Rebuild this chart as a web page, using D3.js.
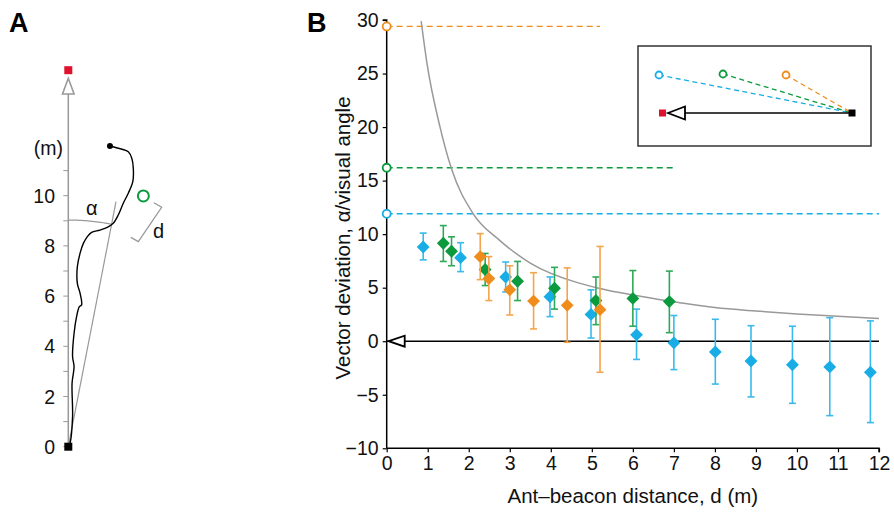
<!DOCTYPE html>
<html>
<head>
<meta charset="utf-8">
<script src="https://cdn.jsdelivr.net/npm/d3@7"></script>
<style>
  body { margin: 0; background: #fff; }
  svg text { font-family: "Liberation Sans", Arial, Helvetica, sans-serif; }
</style>
</head>
<body>
<div id="chart"></div>
<script>
// ---------------------------------------------- DATA ----------------------------------------------

// panel B, mean vector deviation per ant-beacon distance (m), with error bars
var blueD  = [0.89, 1.8, 2.9, 3.98, 4.98, 6.09, 7.0, 8.01, 8.88, 9.89, 10.8, 11.79];
var blueV  = [8.8, 7.8, 6.0, 4.15, 2.5, 0.6, -0.15, -1.0, -1.85, -2.2, -2.4, -2.9];
var blueLo = [7.6, 6.5, 4.6, 2.3, 0.3, -1.7, -2.65, -4.0, -5.2, -5.8, -6.95, -7.6];
var blueHi = [10.1, 9.2, 7.4, 6.0, 4.8, 3.0, 2.4, 2.05, 1.45, 1.4, 2.2, 1.9];

var greenD  = [1.38, 1.58, 2.4, 3.19, 4.09, 5.1, 6.0, 6.89];
var greenV  = [9.15, 8.4, 6.7, 5.6, 4.95, 3.8, 4.0, 3.7];
var greenLo = [7.45, 7.05, 5.2, 3.8, 3.0, 1.55, 1.4, 0.8];
var greenHi = [10.8, 9.75, 8.2, 7.45, 6.9, 6.0, 6.6, 6.55];

var orangeD  = [2.28, 2.49, 3.0, 3.58, 4.4, 5.2];
var orangeV  = [7.9, 5.85, 4.8, 3.75, 3.35, 2.95];
var orangeLo = [5.75, 3.8, 2.45, 1.15, -0.1, -2.9];
var orangeHi = [10.05, 7.9, 7.05, 6.4, 6.85, 8.85];

// beacon release angles (dashed lines) and where each line stops
var beaconNames = ["orange", "green", "blue"];
var beaconV     = [29.4, 16.2, 11.9];
var beaconEnd   = [5.2, 7.0, 12];

// visual angle of the beacon (grey curve)
var curveD = [0.84, 0.98, 1.3, 1.58, 2.11, 2.76, 3.5, 4.71, 5.11, 6.18, 7.15, 8, 9, 10, 11, 12];
var curveV = [29.9, 26.0, 20.0, 16.1, 11.9, 9.4, 7.3, 5.4, 5.0, 4.2, 3.6, 3.15, 2.82, 2.55, 2.33, 2.13];

var xTicksB = [0, 1, 2, 3, 4, 5, 6, 7, 8, 9, 10, 11, 12];
var yTicksB = [-10, -5, 0, 5, 10, 15, 20, 25, 30];

// panel A, example ant path (m)
var pathX = [0, 0.07, 0.17, 0.15, 0.23, 0.17, 0.23, 0.33, 0.44, 0.53, 0.47, 0.36, 0.36, 0.47, 0.6, 0.76,
             0.93, 1.26, 1.59, 1.79, 1.99, 2.19, 2.39, 2.57, 2.59, 2.53, 2.39, 1.99, 1.66];
var pathY = [0, 0.14, 1.2, 2.53, 3.19, 3.59, 4.52, 5.18, 5.58, 5.65, 6.11, 6.51, 7.17, 7.71, 8.1, 8.37,
             8.54, 8.63, 8.76, 8.9, 9.23, 9.7, 10.1, 10.56, 11.09, 11.49, 11.75, 11.89, 11.98];
var yTicksA = [0, 1, 2, 3, 4, 5, 6, 7, 8, 9, 10, 11];
var yLabelsA = [0, 2, 4, 6, 8, 10];
var beaconA = [2.99, 9.99];      // green beacon position
var targetA = 15;                // red square (nest direction)
var vectorEnd = [1.9, 9.76];     // grey straight vector
var arcR = 9.03;

var colors = { blue: "#19ade6", green: "#0b9a3d", orange: "#ef8c1c" };
var barColors = { blue: "#3bb9ea", green: "#2fa957", orange: "#f3a54c" };

// ---------------------------------------------- SVG ----------------------------------------------

var width = 894, height = 514;

var svg = d3.select("#chart").append("svg")
    .attr("width", width)
    .attr("height", height);

// ---------------------------------------------- PANEL B ----------------------------------------------

var x = d3.scaleLinear().domain([0, 12]).range([386.7, 879]);
var y = d3.scaleLinear().domain([-10, 30]).range([448.3, 20]);

var gB = svg.append("g");

// axes
var xAxis = gB.append("g")
    .attr("transform", "translate(0," + y(-10) + ")")
    .call(d3.axisBottom(x).tickValues(xTicksB).tickSize(4).tickPadding(4).tickFormat(d3.format("d")));
var yAxis = gB.append("g")
    .attr("transform", "translate(" + x(0) + ",0)")
    .call(d3.axisLeft(y).tickValues(yTicksB).tickSize(4).tickPadding(4).tickFormat(d3.format("d")));

[xAxis, yAxis].forEach(function(a) {
  a.select(".domain").attr("stroke", "#000").attr("stroke-width", 1.5);
  a.selectAll(".tick line").attr("stroke", "#000").attr("stroke-width", 1.2);
  a.selectAll(".tick text").attr("font-size", 19.5).attr("fill", "#111");
});
xAxis.select(".domain").attr("d", "M" + x(0) + ",0H" + x(12) + "V4");
yAxis.select(".domain").attr("d", "M0," + y(-10) + "V" + y(30) + "H-4");

gB.append("text")
    .attr("x", x(6)).attr("y", 503)
    .attr("text-anchor", "middle")
    .attr("font-size", 20.5)
    .attr("fill", "#111")
    .text("Ant\u2013beacon distance, d (m)");

gB.append("text")
    .attr("transform", "translate(350,238) rotate(-90)")
    .attr("text-anchor", "middle")
    .attr("font-size", 20.5)
    .attr("fill", "#111")
    .text("Vector deviation, \u03b1/visual angle");

// zero line with nest arrow
gB.append("line")
    .attr("x1", x(0)).attr("x2", x(12))
    .attr("y1", y(0)).attr("y2", y(0))
    .attr("stroke", "#000").attr("stroke-width", 1.5);
gB.append("path")
    .attr("d", "M" + (x(0) + 2) + "," + y(0) + "L" + (x(0) + 18) + "," + (y(0) - 5.5) + "L" + (x(0) + 18) + "," + (y(0) + 5.5) + "Z")
    .attr("fill", "#fff").attr("stroke", "#000").attr("stroke-width", 1.8);

// beacon angle lines
beaconNames.forEach(function(n, i) {
  gB.append("line")
      .attr("x1", x(0)).attr("x2", x(beaconEnd[i]))
      .attr("y1", y(beaconV[i])).attr("y2", y(beaconV[i]))
      .attr("stroke", colors[n]).attr("stroke-width", 1.4)
      .attr("stroke-dasharray", "6,4");
  gB.append("circle")
      .attr("cx", x(0)).attr("cy", y(beaconV[i])).attr("r", 4)
      .attr("fill", "#fff").attr("stroke", colors[n]).attr("stroke-width", 1.8);
});

// visual angle curve
var curvePts = curveD.map(function(d, i) { return [d, curveV[i]]; });
gB.append("path")
    .datum(curvePts)
    .attr("d", d3.line().x(function(d) { return x(d[0]); }).y(function(d) { return y(d[1]); }).curve(d3.curveMonotoneX))
    .attr("fill", "none").attr("stroke", "#999").attr("stroke-width", 1.5);

// series
function drawSeries(name, ds, vs, los, his) {
  var pts = ds.map(function(d, i) { return { d: d, v: vs[i], lo: los[i], hi: his[i] }; });
  var g = gB.append("g").attr("class", "series-" + name);
  var bars = g.selectAll(".err").data(pts).enter().append("g").attr("class", "err")
      .attr("stroke", barColors[name]).attr("stroke-width", 1.6);
  bars.append("line")
      .attr("x1", function(p) { return x(p.d); }).attr("x2", function(p) { return x(p.d); })
      .attr("y1", function(p) { return y(p.lo); }).attr("y2", function(p) { return y(p.hi); });
  bars.append("line")
      .attr("x1", function(p) { return x(p.d) - 3.5; }).attr("x2", function(p) { return x(p.d) + 3.5; })
      .attr("y1", function(p) { return y(p.lo); }).attr("y2", function(p) { return y(p.lo); });
  bars.append("line")
      .attr("x1", function(p) { return x(p.d) - 3.5; }).attr("x2", function(p) { return x(p.d) + 3.5; })
      .attr("y1", function(p) { return y(p.hi); }).attr("y2", function(p) { return y(p.hi); });
  g.selectAll(".pt").data(pts).enter().append("path").attr("class", "pt")
      .attr("d", d3.symbol().type(d3.symbolDiamond2).size(105))
      .attr("transform", function(p) { return "translate(" + x(p.d) + "," + y(p.v) + ")"; })
      .attr("fill", colors[name]);
}
drawSeries("blue", blueD, blueV, blueLo, blueHi);
drawSeries("green", greenD, greenV, greenLo, greenHi);
drawSeries("orange", orangeD, orangeV, orangeLo, orangeHi);

// inset schematic
var inset = gB.append("g").attr("transform", "translate(638,46)");
inset.append("rect")
    .attr("width", 233).attr("height", 100)
    .attr("fill", "#fff").attr("stroke", "#333").attr("stroke-width", 1.5);
var nestPt = [214, 67];
var insetCircles = [[21, 29, "blue"], [85, 28, "green"], [148, 29, "orange"]];
insetCircles.forEach(function(c) {
  inset.append("line")
      .attr("x1", c[0]).attr("y1", c[1]).attr("x2", nestPt[0]).attr("y2", nestPt[1])
      .attr("stroke", colors[c[2]]).attr("stroke-width", 1.3).attr("stroke-dasharray", "5,3.5");
  inset.append("circle")
      .attr("cx", c[0]).attr("cy", c[1]).attr("r", 3.5)
      .attr("fill", "#fff").attr("stroke", colors[c[2]]).attr("stroke-width", 1.8);
});
inset.append("line")
    .attr("x1", 47).attr("x2", nestPt[0]).attr("y1", nestPt[1]).attr("y2", nestPt[1])
    .attr("stroke", "#000").attr("stroke-width", 1.5);
inset.append("path")
    .attr("d", "M30," + nestPt[1] + "L47," + (nestPt[1] - 6.5) + "L47," + (nestPt[1] + 6.5) + "Z")
    .attr("fill", "#fff").attr("stroke", "#000").attr("stroke-width", 1.8);
inset.append("rect")
    .attr("x", 21).attr("y", nestPt[1] - 3.5).attr("width", 7).attr("height", 7)
    .attr("fill", "#e0102f");
inset.append("rect")
    .attr("x", nestPt[0] - 3.5).attr("y", nestPt[1] - 3.5).attr("width", 7).attr("height", 7)
    .attr("fill", "#000");

svg.append("text")
    .attr("x", 307).attr("y", 31.5)
    .attr("font-size", 27).attr("font-weight", "bold")
    .text("B");

// ---------------------------------------------- PANEL A ----------------------------------------------

var yA = d3.scaleLinear().domain([0, 10]).range([446.7, 195.7]);
var xA = d3.scaleLinear().domain([0, 10]).range([68.3, 319.3]);

var gA = svg.append("g");

svg.append("text")
    .attr("x", 9).attr("y", 31.5)
    .attr("font-size", 27).attr("font-weight", "bold")
    .text("A");

// axis
gA.append("line")
    .attr("x1", xA(0)).attr("x2", xA(0))
    .attr("y1", yA(0)).attr("y2", yA(14.05))
    .attr("stroke", "#999").attr("stroke-width", 1.5);
gA.selectAll(".tickA").data(yTicksA).enter().append("line")
    .attr("x1", xA(0) - 5).attr("x2", xA(0))
    .attr("y1", function(d) { return yA(d); }).attr("y2", function(d) { return yA(d); })
    .attr("stroke", "#999").attr("stroke-width", 1);
gA.selectAll(".labA").data(yLabelsA).enter().append("text")
    .attr("x", 55).attr("y", function(d) { return yA(d) + 7; })
    .attr("text-anchor", "end").attr("font-size", 19.5).attr("fill", "#111")
    .text(function(d) { return d; });
gA.append("text")
    .attr("x", 63).attr("y", yA(11.9) + 6.5)
    .attr("text-anchor", "end").attr("font-size", 19.5).attr("fill", "#111")
    .text("(m)");
gA.append("path")
    .attr("d", "M" + xA(0) + "," + yA(14.68) + "L" + (xA(0) - 5.8) + "," + yA(14.05) + "L" + (xA(0) + 5.8) + "," + yA(14.05) + "Z")
    .attr("fill", "#fff").attr("stroke", "#999").attr("stroke-width", 1.6);
gA.append("rect")
    .attr("x", xA(0) - 4).attr("y", yA(targetA) - 4).attr("width", 8).attr("height", 8)
    .attr("fill", "#e0102f");

// straight vector and angle arc
gA.append("line")
    .attr("x1", xA(0)).attr("y1", yA(0))
    .attr("x2", xA(vectorEnd[0])).attr("y2", yA(vectorEnd[1]))
    .attr("stroke", "#999").attr("stroke-width", 1.2);
var arcAng = Math.atan2(vectorEnd[0], vectorEnd[1]);
var arcPts = d3.range(0, 1.0001, 0.05).map(function(t) {
  var a = t * arcAng;
  return [arcR * Math.sin(a), arcR * Math.cos(a)];
});
gA.append("path")
    .datum(arcPts)
    .attr("d", d3.line().x(function(d) { return xA(d[0]); }).y(function(d) { return yA(d[1]); }))
    .attr("fill", "none").attr("stroke", "#999").attr("stroke-width", 1.2);
gA.append("text")
    .attr("x", 86).attr("y", 215)
    .attr("font-size", 20).attr("fill", "#111")
    .text("\u03b1");

// ant path
var antPts = pathX.map(function(d, i) { return [d, pathY[i]]; });
gA.append("path")
    .datum(antPts)
    .attr("d", d3.line().x(function(d) { return xA(d[0]); }).y(function(d) { return yA(d[1]); }).curve(d3.curveCatmullRom))
    .attr("fill", "none").attr("stroke", "#000").attr("stroke-width", 1.4);
gA.append("circle")
    .attr("cx", xA(pathX[pathX.length - 1])).attr("cy", yA(pathY[pathY.length - 1])).attr("r", 3)
    .attr("fill", "#000");
gA.append("rect")
    .attr("x", xA(0) - 4).attr("y", yA(0) - 4).attr("width", 8).attr("height", 8)
    .attr("fill", "#000");

// beacon and distance bracket
gA.append("circle")
    .attr("cx", xA(beaconA[0])).attr("cy", yA(beaconA[1])).attr("r", 5.5)
    .attr("fill", "none").attr("stroke", colors.green).attr("stroke-width", 2);
var bracket = [[2.49, 8.34], [2.79, 8.17], [3.72, 9.54], [3.41, 9.72]];
gA.append("path")
    .datum(bracket)
    .attr("d", d3.line().x(function(d) { return xA(d[0]); }).y(function(d) { return yA(d[1]); }))
    .attr("fill", "none").attr("stroke", "#999").attr("stroke-width", 1.3);
gA.append("text")
    .attr("x", 153).attr("y", 238)
    .attr("font-size", 20).attr("fill", "#111")
    .text("d");
</script>
</body>
</html>
